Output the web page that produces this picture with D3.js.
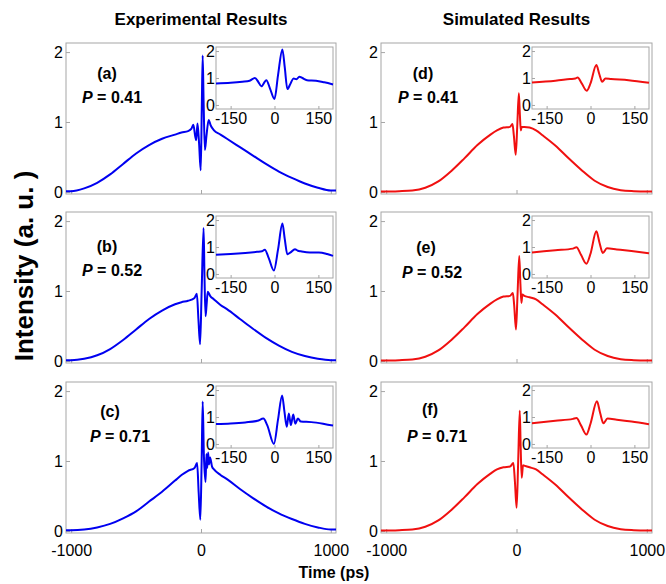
<!DOCTYPE html>
<html>
<head>
<meta charset="utf-8">
<script src="https://cdn.jsdelivr.net/npm/d3@7"></script>
<style>
body { margin: 0; background: #fff; }
text { font-family: "Liberation Sans", Arial, sans-serif; }
</style>
</head>
<body>
<script>
// ---- data: [time (ps), intensity (a.u.)] ----
const expMainA = [[-1040,0.01],[-1000,0.01],[-900,0.05],[-800,0.13],[-700,0.25],[-600,0.4],[-500,0.55],[-400,0.67],[-300,0.76],[-200,0.82],[-150,0.85],
  [-100,0.87],[-75,0.9],[-59,0.96],[-45,0.8],[-37,0.74],[-27,0.98],[-15,0.7],[-2,0.31],[6,1.2],[13,1.95],[20,1.3],[30,0.6],[42,0.8],[59,1.03],[75,0.95],[100,0.88],
  [150,0.82],[200,0.76],[300,0.64],[400,0.52],[500,0.4],[600,0.29],[700,0.2],[800,0.12],[900,0.06],[1000,0.02],[1040,0.02]];
const expMainB = [[-1040,0.01],[-1000,0.01],[-900,0.03],[-800,0.08],[-700,0.17],[-600,0.3],[-500,0.45],[-400,0.6],[-300,0.72],[-200,0.81],[-150,0.84],
  [-100,0.86],[-50,0.9],[-32,0.96],[-20,0.6],[-7,0.24],[5,1.0],[20,1.9],[27,1.2],[35,0.64],[43,0.8],[52,0.99],[70,0.93],[100,0.88],
  [150,0.8],[200,0.74],[300,0.6],[400,0.46],[500,0.33],[600,0.22],[700,0.13],[800,0.07],[900,0.03],[1000,0.01],[1040,0.01]];
const expMainC = [[-1040,0.01],[-1000,0.01],[-900,0.02],[-800,0.05],[-700,0.1],[-600,0.18],[-500,0.28],[-400,0.42],[-300,0.56],[-200,0.72],[-150,0.8],
  [-100,0.86],[-50,0.9],[-30,0.97],[-18,0.55],[-5,0.16],[5,1.0],[13,1.85],[22,1.1],[35,0.7],[42,1.1],[48,0.9],[55,1.12],[62,0.95],[70,1.05],[85,0.92],[100,0.88],
  [150,0.8],[200,0.74],[300,0.6],[400,0.47],[500,0.35],[600,0.25],[700,0.17],[800,0.1],[900,0.05],[1000,0.02],[1040,0.02]];
const simMainD = [[-1040,0.005],[-1000,0.005],[-900,0.01],[-800,0.02],[-700,0.06],[-600,0.15],[-500,0.3],[-400,0.48],[-300,0.67],[-200,0.82],[-150,0.88],
  [-100,0.92],[-50,0.93],[-31,0.97],[-20,0.8],[-6,0.53],[6,0.95],[18,1.41],[26,1.1],[33,0.88],[40,0.93],[60,0.93],[100,0.92],
  [150,0.88],[200,0.81],[300,0.66],[400,0.48],[500,0.31],[600,0.16],[700,0.07],[800,0.025],[900,0.01],[1000,0.005],[1040,0.005]];
const simMainE = [[-1040,0.005],[-1000,0.005],[-900,0.01],[-800,0.02],[-700,0.06],[-600,0.15],[-500,0.3],[-400,0.48],[-300,0.67],[-200,0.82],[-150,0.88],
  [-100,0.92],[-50,0.93],[-28,0.97],[-18,0.8],[-4,0.45],[8,0.95],[21,1.5],[30,1.1],[38,0.83],[45,0.95],[60,0.93],[100,0.91],
  [150,0.88],[200,0.81],[300,0.66],[400,0.48],[500,0.31],[600,0.16],[700,0.07],[800,0.025],[900,0.01],[1000,0.005],[1040,0.005]];
const simMainF = [[-1040,0.005],[-1000,0.005],[-900,0.01],[-800,0.02],[-700,0.06],[-600,0.15],[-500,0.3],[-400,0.48],[-300,0.67],[-200,0.82],[-150,0.88],
  [-100,0.91],[-50,0.92],[-24,0.97],[-12,0.7],[1,0.33],[13,1.0],[25,1.72],[32,1.2],[40,0.76],[50,0.94],[65,0.93],[100,0.91],
  [150,0.88],[200,0.81],[300,0.66],[400,0.48],[500,0.31],[600,0.16],[700,0.07],[800,0.025],[900,0.01],[1000,0.005],[1040,0.005]];

// insets, zoom on the centre of the pulse
const expInsetA = [[-200,0.8],[-150,0.82],[-110,0.86],[-85,0.9],[-67,1.0],[-55,0.85],[-45,0.69],[-28,0.92],[-15,0.6],[0,0.22],[12,1.1],[27,2.06],[35,1.4],[44,0.59],[55,0.8],[65,0.98],[75,0.95],[85,1.05],[95,1.0],[111,0.92],[142,0.9],[170,0.84],[200,0.76]];
const expInsetB = [[-200,0.71],[-150,0.74],[-100,0.78],[-60,0.82],[-43,0.84],[-33,0.9],[-20,0.6],[-2,0.13],[12,0.9],[27,1.87],[35,1.3],[44,0.73],[55,0.8],[70,0.92],[80,0.86],[90,0.84],[121,0.8],[152,0.8],[180,0.74],[200,0.67]];
const expInsetC = [[-200,0.74],[-150,0.76],[-100,0.8],[-58,0.86],[-38,0.94],[-25,0.7],[-2,0.0],[12,0.9],[26,1.8],[34,1.2],[42,0.64],[49,1.13],[56,0.7],[64,1.09],[71,0.75],[80,0.94],[90,0.83],[126,0.81],[170,0.74],[200,0.68]];
const simInsetD = [[-200,0.83],[-120,0.9],[-70,0.96],[-52,0.98],[-44,1.02],[-30,0.8],[-13,0.53],[0,0.8],[20,1.48],[30,1.15],[40,0.86],[51,0.98],[70,0.96],[130,0.92],[200,0.82]];
const simInsetE = [[-200,0.8],[-120,0.88],[-60,0.94],[-48,0.99],[-32,0.7],[-14,0.38],[0,0.75],[20,1.58],[31,1.15],[42,0.78],[56,0.95],[90,0.91],[140,0.85],[200,0.77]];
const simInsetF = [[-200,0.77],[-120,0.86],[-60,0.93],[-48,0.96],[-32,0.68],[-14,0.35],[0,0.75],[22,1.58],[33,1.15],[44,0.77],[58,0.94],[90,0.9],[140,0.83],[200,0.73]];

const panelLetters = ['a', 'b', 'c', 'd', 'e', 'f'];
const pValues = ['0.41', '0.52', '0.71', '0.41', '0.52', '0.71'];
const mainTicksX = [-1000, 0, 1000];
const mainTicksY = [0, 1, 2];
const insetTicksX = [-150, 0, 150];
const insetTicksY = [0, 1, 2];
const columnTitles = ['Experimental Results', 'Simulated Results'];

// ---- layout ----
const cols = [{ left: 66, width: 270, color: '#0000f0' }, { left: 381, width: 271, color: '#f01010' }];
const rowTops = [43, 212, 382];
const plotH = 151;
const frameColor = '#a6a6a6';
// label offsets inside each frame: letter centre x / baseline, P-text left x / baseline
const labelPos = [
  { lx: 41, ly: 36, px: 16, py: 60 }, { lx: 41, ly: 40, px: 16, py: 64 }, { lx: 44, ly: 35, px: 24, py: 60 },
  { lx: 42, ly: 36, px: 17, py: 60 }, { lx: 45, ly: 41, px: 21, py: 66 }, { lx: 49, ly: 33, px: 26, py: 60 }
];

const panels = [
  { main: expMainA, inset: expInsetA }, { main: expMainB, inset: expInsetB }, { main: expMainC, inset: expInsetC },
  { main: simMainD, inset: simInsetD }, { main: simMainE, inset: simInsetE }, { main: simMainF, inset: simInsetF }
];

const plain = function (d) { return String(d); }; // hyphen minus, like the figure

const svg = d3.select('body').append('svg')
  .attr('width', 666)
  .attr('height', 584);

// column titles
columnTitles.forEach(function (t, i) {
  svg.append('text')
    .attr('x', cols[i].left + cols[i].width / 2)
    .attr('y', 25)
    .attr('text-anchor', 'middle')
    .attr('font-size', 17)
    .attr('font-weight', 'bold')
    .text(t);
});

panels.forEach(function (p, i) {
  const col = cols[Math.floor(i / 3)];
  const row = i % 3;
  const top = rowTops[row];
  const g = svg.append('g').attr('transform', 'translate(' + col.left + ',' + top + ')');

  const x = d3.scaleLinear().domain([-1040, 1040]).range([0, col.width]);
  const y = d3.scaleLinear().domain([-0.03, 2.13]).range([plotH, 0]);

  g.append('rect')
    .attr('width', col.width).attr('height', plotH)
    .attr('fill', '#fff').attr('stroke', frameColor);

  // ticks inside the frame, matlab style
  const xAxis = d3.axisBottom(x).tickValues(mainTicksX).tickSize(-4)
    .tickFormat(row === 2 ? plain : '');
  const gx = g.append('g').attr('transform', 'translate(0,' + plotH + ')').call(xAxis);
  const yAxis = d3.axisLeft(y).tickValues(mainTicksY).tickSize(-4).tickFormat(plain);
  const gy = g.append('g').call(yAxis);
  [gx, gy].forEach(function (a) {
    a.select('.domain').remove();
    a.selectAll('line').attr('stroke', frameColor);
    a.selectAll('text').attr('font-size', 16).attr('fill', '#000')
      .style('font-family', '"Liberation Sans", Arial, sans-serif');
  });
  gx.selectAll('text').attr('y', 12);
  gy.selectAll('text').attr('x', -3);

  const line = d3.line()
    .x(function (d) { return x(d[0]); })
    .y(function (d) { return y(d[1]); })
    .curve(d3.curveMonotoneX);

  g.append('path')
    .datum(p.main)
    .attr('d', line)
    .attr('fill', 'none')
    .attr('stroke', col.color)
    .attr('stroke-width', 2);

  // labels
  const lp = labelPos[i];
  g.append('text')
    .attr('x', lp.lx).attr('y', lp.ly)
    .attr('text-anchor', 'middle')
    .attr('font-size', 16).attr('font-weight', 'bold')
    .text('(' + panelLetters[i] + ')');
  const pt = g.append('text')
    .attr('x', lp.px).attr('y', lp.py)
    .attr('font-size', 16).attr('font-weight', 'bold');
  pt.append('tspan').attr('font-style', 'italic').text('P');
  pt.append('tspan').text(' = ' + pValues[i]);

  // inset
  const iw = 117, ih = 62;
  const ig = g.append('g').attr('transform', 'translate(' + (col.width - iw - 3) + ',4)');
  const ix = d3.scaleLinear().domain([-200, 200]).range([0, iw]);
  const iy = d3.scaleLinear().domain([-0.15, 2.15]).range([ih, 0]);

  ig.append('rect')
    .attr('width', iw).attr('height', ih)
    .attr('fill', '#fff').attr('stroke', frameColor);

  const ixAxis = d3.axisBottom(ix).tickValues(insetTicksX).tickSize(-3).tickFormat(plain);
  const igx = ig.append('g').attr('transform', 'translate(0,' + ih + ')').call(ixAxis);
  const iyAxis = d3.axisLeft(iy).tickValues(insetTicksY).tickSize(-3).tickFormat(plain);
  const igy = ig.append('g').call(iyAxis);
  [igx, igy].forEach(function (a) {
    a.select('.domain').remove();
    a.selectAll('line').attr('stroke', frameColor);
    a.selectAll('text').attr('font-size', 16).attr('fill', '#000')
      .style('font-family', '"Liberation Sans", Arial, sans-serif');
  });
  igx.selectAll('text').attr('y', 4);
  igy.selectAll('text').attr('x', -1);

  const iline = d3.line()
    .x(function (d) { return ix(d[0]); })
    .y(function (d) { return iy(d[1]); })
    .curve(d3.curveMonotoneX);

  ig.append('path')
    .datum(p.inset)
    .attr('d', iline)
    .attr('fill', 'none')
    .attr('stroke', col.color)
    .attr('stroke-width', 2);
});

// axis titles
svg.append('text')
  .attr('x', 334).attr('y', 578)
  .attr('text-anchor', 'middle')
  .attr('font-size', 16).attr('font-weight', 'bold')
  .text('Time (ps)');

svg.append('text')
  .attr('transform', 'translate(33,266) rotate(-90)')
  .attr('text-anchor', 'middle')
  .attr('font-size', 26).attr('font-weight', 'bold')
  .text('Intensity (a. u. )');
</script>
</body>
</html>
